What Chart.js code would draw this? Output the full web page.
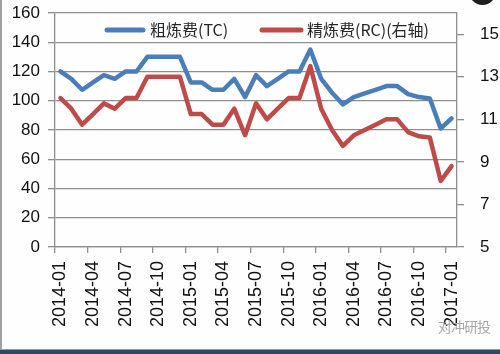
<!DOCTYPE html>
<html>
<head>
<meta charset="utf-8">
<script src="https://cdn.jsdelivr.net/npm/chart.js@4.4.1/dist/chart.umd.min.js"></script>
<style>
  html, body { margin: 0; padding: 0; background: #ffffff; }
  #wrap { position: relative; width: 500px; height: 354px; overflow: hidden; background: #fefefe; }
  #chart { position: absolute; left: 0; top: 0; }
  #edge-left { position: absolute; left: 0; top: 0; width: 2px; height: 354px; background: #a0a0a0; }
  #edge-bottom { position: absolute; left: 0; bottom: 0; width: 500px; height: 4px; background: #2c4a68; border-top: 1px solid #8aa0b8; }
  #blob { position: absolute; left: 469px; top: -22px; width: 27px; height: 27px; border-radius: 50%; background: #1e1e1e; }
  #mark { position: absolute; left: 438px; top: 316px; font: 14px "Noto Sans CJK SC", sans-serif; color: #a8a8a8; letter-spacing: -1px; }
</style>
</head>
<body>
<div id="wrap">
  <canvas id="chart" width="500" height="354"></canvas>
  <div id="edge-left"></div>
  <div id="edge-bottom"></div>
  <div id="blob"></div>
  <div id="mark">对冲研投</div>
</div>
<script>
const months = [
  '2014-01', '2014-02', '2014-03', '2014-04', '2014-05', '2014-06',
  '2014-07', '2014-08', '2014-09', '2014-10', '2014-11', '2014-12',
  '2015-01', '2015-02', '2015-03', '2015-04', '2015-05', '2015-06',
  '2015-07', '2015-08', '2015-09', '2015-10', '2015-11', '2015-12',
  '2016-01', '2016-02', '2016-03', '2016-04', '2016-05', '2016-06',
  '2016-07', '2016-08', '2016-09', '2016-10', '2016-11', '2016-12',
  '2017-01'
];

// 粗炼费 TC (left axis)
const tcValues = [
  120, 115, 107.5, 112.5, 117.5, 115, 120, 120, 130, 130, 130, 130,
  112.5, 112.5, 107.5, 107.5, 115, 102.5, 117.5, 110, 115, 120, 120, 135,
  115, 105.5, 97.5, 102.5, 105, 107.5, 110, 110, 104.5, 102.5, 101.5, 81, 88
];

// 精炼费 RC (right axis)
const rcValues = [
  12, 11.5, 10.75, 11.25, 11.75, 11.5, 12, 12, 13, 13, 13, 13,
  11.25, 11.25, 10.75, 10.75, 11.5, 10.25, 11.75, 11, 11.5, 12, 12, 13.5,
  11.5, 10.5, 9.75, 10.25, 10.5, 10.75, 11, 11, 10.4, 10.2, 10.15, 8.1, 8.8
];

const leftTicks = [0, 20, 40, 60, 80, 100, 120, 140, 160];
const rightTicks = [5, 7, 9, 11, 13, 15];

const gridColor = '#8e8e8e';
const tickFont = { family: '"Liberation Sans", Arial, sans-serif', size: 17 };

// drop the extra label overhang padding so the plot box lands where the reference has it
function noOverhang(axis) {
  axis.paddingTop = 0;
  axis.paddingBottom = 0;
  axis.paddingLeft = 0;
  axis.paddingRight = 0;
}

const insideLegend = {
  id: 'insideLegend',
  afterDraw(chart) {
    const ctx = chart.ctx;
    const area = chart.chartArea;
    const y = area.top + 17;
    const items = [
      { x: area.left + 50, w: 40, gap: 5 },
      { x: area.left + 205, w: 43, gap: 4 }
    ];
    ctx.save();
    ctx.font = '16px "Noto Sans CJK SC", sans-serif';
    ctx.textBaseline = 'middle';
    chart.data.datasets.forEach((ds, i) => {
      const it = items[i];
      ctx.strokeStyle = ds.borderColor;
      ctx.lineWidth = 5;
      ctx.lineCap = 'round';
      ctx.beginPath();
      ctx.moveTo(it.x + 2, y);
      ctx.lineTo(it.x + it.w - 2, y);
      ctx.stroke();
      ctx.fillStyle = '#262626';
      ctx.fillText(ds.label, it.x + it.w + it.gap, y);
    });
    ctx.restore();
  }
};

new Chart(document.getElementById('chart'), {
  type: 'line',
  data: {
    labels: months,
    datasets: [
      {
        label: '粗炼费(TC)',
        data: tcValues,
        yAxisID: 'y',
        borderColor: '#4a7ebb',
        borderWidth: 4.5,
        pointRadius: 0,
        tension: 0,
        borderJoinStyle: 'round',
        borderCapStyle: 'round'
      },
      {
        label: '精炼费(RC)(右轴)',
        data: rcValues,
        yAxisID: 'y1',
        borderColor: '#be4b48',
        borderWidth: 4.5,
        pointRadius: 0,
        tension: 0,
        borderJoinStyle: 'round',
        borderCapStyle: 'round'
      }
    ]
  },
  options: {
    responsive: false,
    animation: false,
    layout: {
      padding: { left: 11, right: 1, top: 13, bottom: 19 }
    },
    plugins: {
      legend: { display: false },
      tooltip: { enabled: false }
    },
    scales: {
      x: {
        offset: true,
        afterFit: noOverhang,
        grid: {
          offset: true,
          drawOnChartArea: false,
          tickLength: 6,
          color: (c) => (c.index % 3 === 0 ? gridColor : 'rgba(0,0,0,0)'),
          lineWidth: 1.3
        },
        border: { color: gridColor, width: 1.3 },
        ticks: {
          autoSkip: false,
          minRotation: 90,
          maxRotation: 90,
          padding: 8,
          color: '#111',
          font: { family: tickFont.family, size: 18 },
          callback: function(value, index) {
            return index % 3 === 0 ? this.getLabelForValue(value) : '';
          }
        }
      },
      y: {
        position: 'left',
        min: 0,
        max: 160,
        afterFit: (axis) => { noOverhang(axis); axis.width = 44; },
        afterBuildTicks: (axis) => { axis.ticks = leftTicks.map(v => ({ value: v })); },
        grid: { color: gridColor, lineWidth: 1.3, tickLength: 7 },
        border: { color: gridColor, width: 1.3 },
        ticks: { padding: 8, color: '#111', font: tickFont }
      },
      y1: {
        position: 'right',
        min: 5,
        max: 16,
        afterFit: (axis) => { noOverhang(axis); axis.width = 42; },
        afterBuildTicks: (axis) => { axis.ticks = rightTicks.map(v => ({ value: v })); },
        grid: { drawOnChartArea: false, color: gridColor, lineWidth: 1.3, tickLength: 7 },
        border: { color: gridColor, width: 1.3 },
        ticks: { padding: 16, color: '#111', font: tickFont }
      }
    }
  },
  plugins: [insideLegend]
});
</script>
</body>
</html>
